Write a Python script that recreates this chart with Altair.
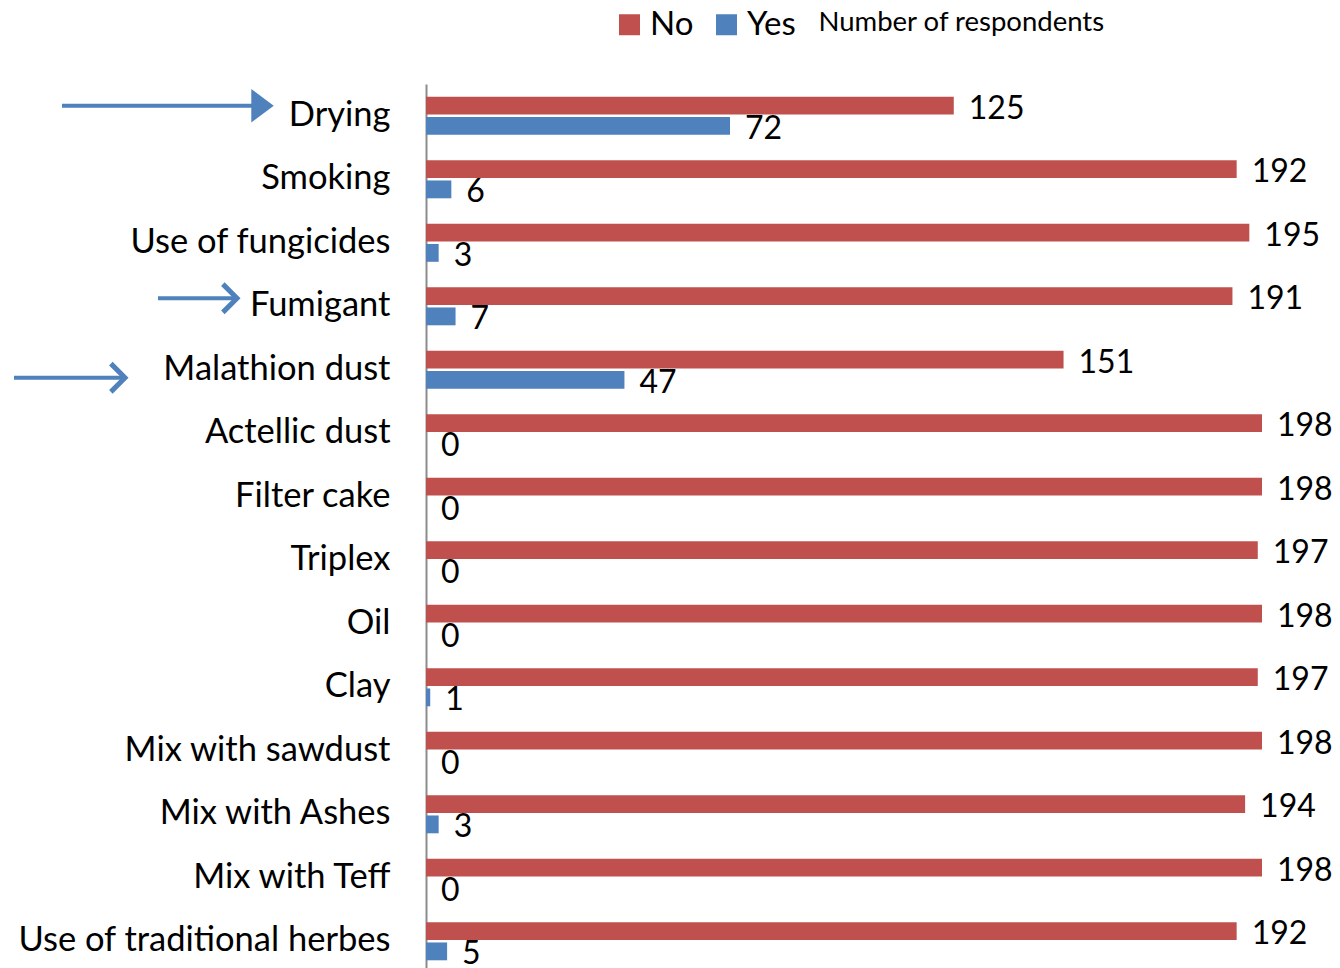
import altair as alt
import pandas as pd

categories = ["Drying", "Smoking", "Use of fungicides", "Fumigant", "Malathion dust",
              "Actellic dust", "Filter cake", "Triplex", "Oil", "Clay",
              "Mix with sawdust", "Mix with Ashes", "Mix with Teff", "Use of traditional herbes"]
no_values = [125, 192, 195, 191, 151, 198, 198, 197, 198, 197, 198, 194, 198, 192]
yes_values = [72, 6, 3, 7, 47, 0, 0, 0, 0, 1, 0, 3, 0, 5]
series = ["No", "Yes"]
colors = ["#C0504D", "#4F81BD"]

# annotation arrows (category, start/end in px relative to plot left, vertical nudge, head style)
arrow_cats = ["Drying", "Fumigant", "Malathion dust"]
arrow_x1 = [-364, -268, -412]
arrow_x2 = [-156, -189, -301]
arrow_dy = [-10, -8, 8]
arrow_filled = [True, False, False]

rows = []
for c, n, y in zip(categories, no_values, yes_values):
    rows.append({"cat": c, "series": "No", "value": n})
    rows.append({"cat": c, "series": "Yes", "value": y})
df = pd.DataFrame(rows)

FONT = "Lato"
W, H = 836, 889

y_enc = alt.Y("cat:N", sort=categories, title=None,
              scale=alt.Scale(paddingInner=0.4, paddingOuter=0.2),
              axis=alt.Axis(ticks=False, labelPadding=36, labelFontSize=34.5, labelFont=FONT,
                            labelColor="#000000", domainColor="#8c8c8c", domainWidth=2,
                            labelLimit=500))
yoff = alt.YOffset("series:N", sort=series, scale=alt.Scale(paddingInner=0.12))
x_enc = alt.X("value:Q", scale=alt.Scale(domain=[0, 198], nice=False),
              axis=alt.Axis(orient="top", labels=False, ticks=False, domain=False, grid=False,
                            title="Number of respondents", titleFont=FONT, titleFontSize=27.5,
                            titleFontWeight="normal", titleColor="#000000",
                            titleX=392, titleY=-62, titleAlign="left", titleBaseline="middle",
                            titleAngle=0))

bars = alt.Chart(df).mark_bar().encode(
    y=y_enc, yOffset=yoff, x=x_enc,
    color=alt.Color("series:N", sort=series,
                    scale=alt.Scale(domain=series, range=colors),
                    legend=alt.Legend(title=None, orient="none", legendX=187, legendY=-76,
                                      direction="horizontal", symbolType="square",
                                      symbolSize=441, symbolStrokeWidth=0,
                                      labelFont=FONT, labelFontSize=33, labelColor="#000000",
                                      labelOffset=4, columnPadding=16))
)

labels = alt.Chart(df).mark_text(align="left", baseline="middle", dx=15, dy=3,
                                 font=FONT, fontSize=32, color="#000000").encode(
    y=alt.Y("cat:N", sort=categories), yOffset=yoff, x="value:Q", text="value:Q"
)

layers = [bars, labels]
for c, a1, a2, dy, filled in zip(arrow_cats, arrow_x1, arrow_x2, arrow_dy, arrow_filled):
    adf = pd.DataFrame({"cat": [c], "x1": [a1], "x2": [a2]})
    line = alt.Chart(adf).mark_rule(color="#4F81BD", strokeWidth=4, yOffset=dy).encode(
        y=alt.Y("cat:N", sort=categories),
        x=alt.X("x1:Q", scale=None), x2="x2:Q")
    if filled:
        head = alt.Chart(adf).mark_point(shape="M-1,-0.9L0.2,0L-1,0.9Z", filled=True, opacity=1,
                                         color="#4F81BD", size=1400, yOffset=dy).encode(
            y=alt.Y("cat:N", sort=categories), x=alt.X("x2:Q", scale=None))
    else:
        head = alt.Chart(adf).mark_point(shape="M-1,-1L0,0L-1,1", filled=False, opacity=1,
                                         color="#4F81BD", strokeWidth=5, size=800,
                                         yOffset=dy).encode(
            y=alt.Y("cat:N", sort=categories), x=alt.X("x2:Q", scale=None))
    layers += [line, head]

chart = alt.layer(*layers).properties(
    width=W, height=H,
    autosize=alt.AutoSizeParams(type="none"),
    padding={"left": 426, "top": 84, "right": 78, "bottom": 0},
    background="white",
).configure_view(stroke=None)

chart.save("out.html", embed_options={"renderer": "svg", "actions": False})
